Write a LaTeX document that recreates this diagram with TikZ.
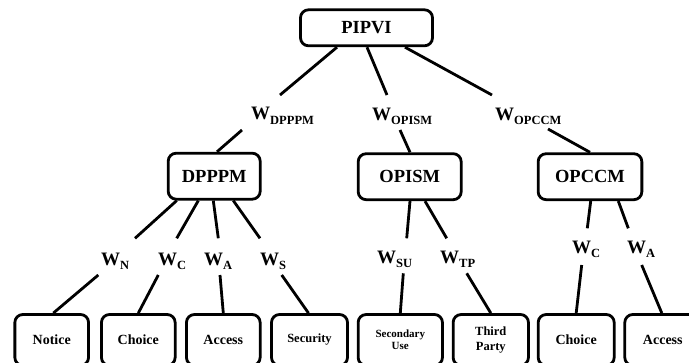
\documentclass[tikz,border=0pt]{standalone}
\usepackage{fontspec}
\setmainfont{Liberation Serif}
\usetikzlibrary{calc}
% weight symbol with a lowered subscript
\newcommand\wsub[1]{W\raisebox{-4.5pt}{\fontsize{12.5}{12.5}\selectfont #1}}
\begin{document}
\begin{tikzpicture}[x=1pt,y=-1pt,
  box/.style={draw, line width=2.8pt, rounded corners=8pt, inner sep=0pt, align=center},
  rootbox/.style={box, font=\bfseries\fontsize{18.5}{20}\selectfont},
  midbox/.style={box, font=\bfseries\fontsize{18.5}{20}\selectfont, minimum height=46pt},
  leafbox/.style={box, font=\bfseries\fontsize{14}{16}\selectfont, minimum height=51pt},
  wlab/.style={anchor=base west, inner sep=0pt, font=\bfseries\fontsize{19}{19}\selectfont},
  conn/.style={line width=2.8pt}]
\useasboundingbox (0,0) rectangle (689,362);
\clip (0,0) rectangle (689,362);

% hierarchy boxes
\node[rootbox, minimum width=132pt, minimum height=36pt] (pipvi) at (366.5,27.8) {PIPVI};
\node[midbox, minimum width=92pt]    (dpppm) at (214.2,176.2) {DPPPM};
\node[midbox, minimum width=103pt]   (opism) at (409.7,176.7) {OPISM};
\node[midbox, minimum width=103.7pt] (opccm) at (590,176.7) {OPCCM};

\node[leafbox, minimum width=73.7pt] (notice)   at (51.7,340)  {Notice};
\node[leafbox, minimum width=73.7pt] (choice)   at (138.3,340) {Choice};
\node[leafbox, minimum width=73.7pt] (access)   at (223.3,340) {Access};
\node[leafbox, minimum width=76pt, font=\bfseries\fontsize{12.5}{14}\selectfont] (security) at (309.5,340) {Security};
\node[leafbox, minimum width=84.3pt, font=\bfseries\fontsize{11}{12}\selectfont] (secuse) at (400.3,340) {Secondary\\Use};
\node[leafbox, minimum width=75.3pt, font=\bfseries\fontsize{12.5}{14.5}\selectfont] (third) at (490.8,340) {Third\\Party};
\node[leafbox, minimum width=76pt]   (choice2)  at (576.2,340) {Choice};
\node[leafbox, minimum width=76pt]   (access2)  at (662.8,340) {Access};

% weight labels
\node[wlab] (wdpppm) at (251,119.5) {\wsub{DPPPM}};
\node[wlab] (wopism) at (372,120)   {\wsub{OPISM}};
\node[wlab] (wopccm) at (495,120)   {\wsub{OPCCM}};
\node[wlab] (wn)  at (101,265) {\wsub{N}};
\node[wlab] (wc)  at (158,265) {\wsub{C}};
\node[wlab] (wa)  at (204,265) {\wsub{A}};
\node[wlab] (ws)  at (260,265) {\wsub{S}};
\node[wlab] (wsu) at (377,263) {\wsub{SU}};
\node[wlab] (wtp) at (440,263) {\wsub{TP}};
\node[wlab] (wc2) at (572,253) {\wsub{C}};
\node[wlab] (wa2) at (627,253) {\wsub{A}};

% root to criteria
\draw[conn] ([xshift=-29.5pt]pipvi.south) -- ($(wdpppm.base west)+(29,-24.5)$);
\draw[conn] ($(wdpppm.base west)+(-9,10.5)$) -- ([xshift=2.8pt]dpppm.north);
\draw[conn] ([xshift=0.5pt]pipvi.south) -- ($(wopism.base west)+(15,-25)$);
\draw[conn] ($(wopism.base west)+(28,10)$) -- ([xshift=0.3pt]opism.north);
\draw[conn] ([xshift=38.5pt]pipvi.south) -- ($(wopccm.base west)+(-3,-25)$);
\draw[conn] ($(wopccm.base west)+(53,9)$) -- (opccm.north);

% DPPPM sub-criteria
\draw[conn] ([xshift=-37.5pt]dpppm.south) -- ($(wn.base west)+(34,-26.7)$);
\draw[conn] ($(wn.base west)+(-2.7,10)$) -- ([xshift=1.6pt]notice.north);
\draw[conn] ([xshift=-15.9pt]dpppm.south) -- ($(wc.base west)+(18.7,-26.7)$);
\draw[conn] ($(wc.base west)+(0.3,10)$) -- (choice.north);
\draw[conn] ([xshift=-0.9pt]dpppm.south) -- ($(wa.base west)+(14.3,-26.7)$);
\draw[conn] ($(wa.base west)+(16,10)$) -- (access.north);
\draw[conn] ([xshift=19.1pt]dpppm.south) -- ($(ws.base west)+(0,-26.7)$);
\draw[conn] ($(ws.base west)+(21.7,10)$) -- ([xshift=-1pt]security.north);

% OPISM sub-criteria
\draw[conn] ([xshift=0.3pt]opism.south) -- ($(wsu.base west)+(29.7,-24.7)$);
\draw[conn] ($(wsu.base west)+(26.3,10.3)$) -- (secuse.north);
\draw[conn] ([xshift=15.3pt]opism.south) -- ($(wtp.base west)+(6.7,-24.7)$);
\draw[conn] ($(wtp.base west)+(26.7,10.3)$) -- (third.north);

% OPCCM sub-criteria
\draw[conn] ([xshift=0.7pt]opccm.south) -- ($(wc2.base west)+(15.3,-24.7)$);
\draw[conn] ($(wc2.base west)+(9.7,12)$) -- (choice2.north);
\draw[conn] ([xshift=28.3pt]opccm.south) -- ($(wa2.base west)+(1.3,-24.7)$);
\draw[conn] ($(wa2.base west)+(14.7,12)$) -- ([xshift=-1pt]access2.north);
\end{tikzpicture}
\end{document}
